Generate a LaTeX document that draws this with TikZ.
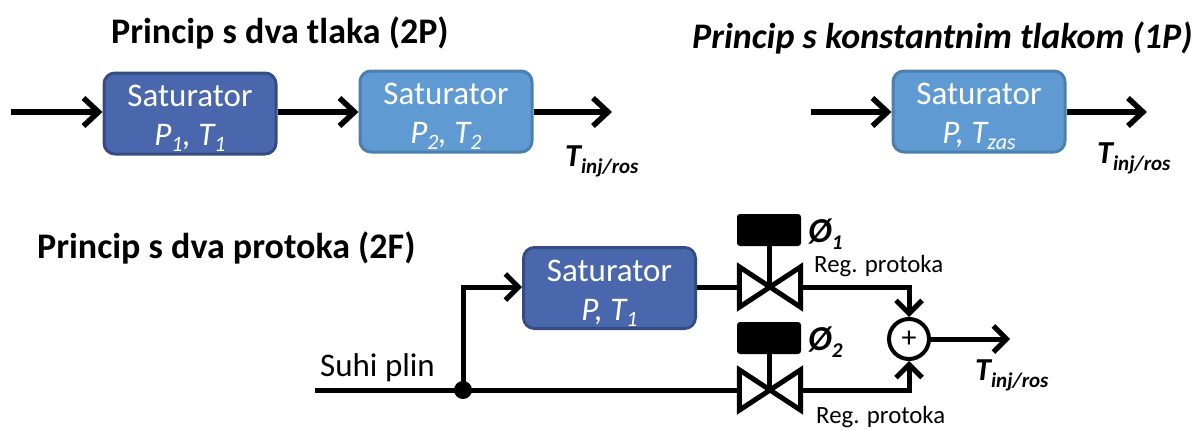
\documentclass[tikz,border=0pt]{standalone}
\usepackage{fontspec}
\setmainfont{Carlito}
\usetikzlibrary{arrows.meta,calc}
\definecolor{darkblue}{HTML}{4A67AE}
\definecolor{darkedge}{HTML}{354C83}
\definecolor{lightblue}{HTML}{5F9BD2}
\definecolor{lightedge}{HTML}{4A7FAE}
\tikzset{
  satbase/.style={rounded corners=11pt,line width=3pt,minimum width=172pt,minimum height=81pt,inner sep=0pt,text=white,font=\fontsize{33}{36}\selectfont,align=center},
  satdark/.style={satbase,draw=darkedge,fill=darkblue},
  satlight/.style={satbase,draw=lightedge,fill=lightblue},
  flow/.style={line width=5.5pt,-{Straight Barb[length=15pt,width=28pt,line width=5.5pt]}},
  flowthin/.style={line width=5pt,-{Straight Barb[length=13pt,width=26pt,line width=5pt]}},
  pipe/.style={line width=5pt},
  title/.style={font=\bfseries\fontsize{36}{38}\selectfont,inner sep=0pt,anchor=base west},
  tout/.style={font=\bfseries\itshape\fontsize{32}{34}\selectfont,inner sep=0pt,anchor=base west},
  small/.style={font=\fontsize{24.8}{27}\selectfont,inner sep=0pt,anchor=base west},
  phi/.style={font=\bfseries\itshape\fontsize{35}{37}\selectfont,inner sep=0pt,anchor=base west},
  valve/.style={minimum width=61pt,minimum height=40pt,inner sep=0pt},
  actuator/.style={fill=black,rounded corners=3pt,minimum width=64pt,minimum height=32pt,inner sep=0pt},
}
\newcommand{\tsub}[1]{\raisebox{-7pt}{\fontsize{21}{22}\selectfont #1}}
\newcommand{\psub}[1]{\raisebox{-6pt}{\fontsize{22}{23}\selectfont #1}}
\newcommand{\satlift}{\rule{0pt}{31pt}}
\begin{document}
\begin{tikzpicture}[x=1pt,y=-1pt]
\useasboundingbox (0,0) rectangle (1195,429);
% titles
\node[title] (t1) at (111,43) {Princip s dva tlaka (2P)};
\node[title,font=\bfseries\itshape\fontsize{36}{38}\selectfont] (t2) at (692,48) {Princip s konstantnim tlakom (1P)};
\node[title] (t3) at (37,258) {Princip s dva protoka (2F)};
% saturators
\node[satdark] (s1) at (190,113.5) {\satlift Saturator\\[3pt]{\itshape P\psub{1}, T\psub{1}}};
\node[satlight] (s2) at (446,111.5) {\satlift Saturator\\[3pt]{\itshape P\psub{2}, T\psub{2}}};
\node[satlight] (s3) at (979,111.5) {\satlift Saturator\\[3pt]{\itshape P, T\psub{zas}}};
\node[satdark] (s4) at (609.5,288) {\satlift Saturator\\[3pt]{\itshape P, T\psub{1}}};
% free ends
\coordinate (a0) at (11,112);
\coordinate (a3) at (612,112);
\coordinate (b0) at (811,112);
\coordinate (b1) at (1147,112);
\coordinate (p0) at (315,390);
\coordinate (e1) at (463,287);
% top connectors
\draw[flow] (a0) -- (a0 -| s1.west);
\draw[flow] (s1.east |- a0) -- (s2.west |- a0);
\draw[flow] (s2.east |- a0) -- (a3);
\draw[flow] (b0) -- (s3.west |- b0);
\draw[flow] (s3.east |- b0) -- (b1);
% valves
\node[valve] (v1) at (770,287) {};
\node[valve] (v2) at (770,390) {};
\node[actuator] (m1) at (769,230) {};
\node[actuator] (m2) at (769,338) {};
\draw[line width=5pt,line join=miter] (v1.north west) -- (v1.south east) -- (v1.north east) -- (v1.south west) -- cycle;
\draw[line width=5pt,line join=miter] (v2.north west) -- (v2.south east) -- (v2.north east) -- (v2.south west) -- cycle;
\draw[pipe] (m1.south) -- (m1.south |- v1.center);
\draw[pipe] (m2.south) -- (m2.south |- v2.center);
% summing junction
\node[circle,draw,line width=4pt,fill=white,minimum size=40pt,inner sep=0pt,font=\fontsize{30}{30}\selectfont] (sum) at (909,339) {+};
\node[circle,fill=black,minimum size=18pt,inner sep=0pt] (dot) at (463,390) {};
\coordinate (o1) at (1010,339);
% lower connectors
\draw[pipe] (p0) -- (v2.west);
\draw[flowthin] (dot.center) -- (e1) -- (s4.west |- e1);
\draw[pipe] (s4.east |- v1.west) -- (v1.west);
\draw[flowthin] (v1.east) -| (sum.north);
\draw[flowthin] (v2.east) -| (sum.south);
\draw[flowthin] (sum.east) -- (o1);
% labels
\node[tout] (l1) at (565,166) {T\tsub{inj/ros}};
\node[tout] (l2) at (1097,163) {T\tsub{inj/ros}};
\node[tout] (l3) at (975,380) {T\tsub{inj/ros}};
\node[phi] (f1) at (808,242) {Ø\tsub{1}};
\node[phi] (f2) at (808,350) {Ø\tsub{2}};
\node[small] (r1) at (814,272) {Reg. protoka};
\node[small] (r2) at (816,423) {Reg. protoka};
\node[font=\fontsize{33}{36}\selectfont,inner sep=0pt,anchor=base west] (sp) at (320,376) {Suhi plin};
\end{tikzpicture}
\end{document}
